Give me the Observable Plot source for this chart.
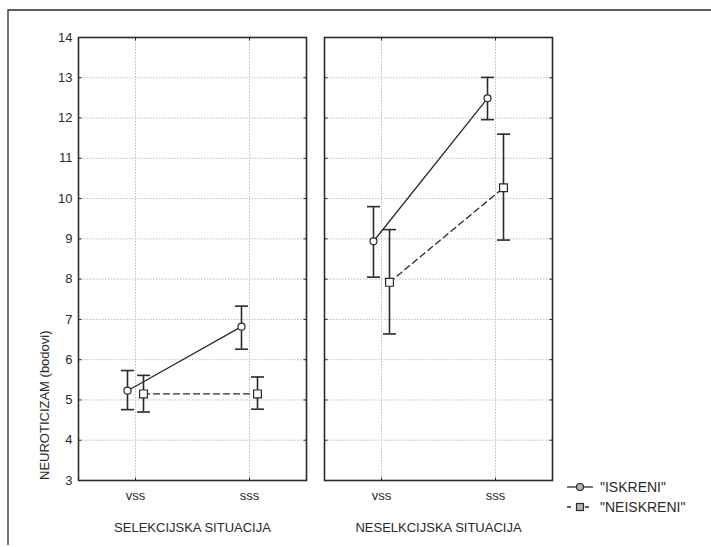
<!DOCTYPE html>
<html>
<head>
<meta charset="utf-8">
<script src="https://cdn.jsdelivr.net/npm/d3@7"></script>
<script src="https://cdn.jsdelivr.net/npm/@observablehq/plot@0.6"></script>
<style>
  body { margin: 0; background: #fff; }
  #chart { position: relative; width: 711px; height: 547px; }
</style>
</head>
<body>
<div id="chart"></div>
<script>
// Situations (panels), conditions (x categories) and respondent groups
const situations = ["SELEKCIJSKA SITUACIJA", "NESELKCIJSKA SITUACIJA"];
const conditions = ["vss", "sss"];
const groups = ['"ISKRENI"', '"NEISKRENI"'];
const yLabel = "NEUROTICIZAM (bodovi)";
const yTicks = [3, 4, 5, 6, 7, 8, 9, 10, 11, 12, 13, 14];

// [situation][condition] : mean and interval bounds
const iskreniMean = [[5.23, 6.82], [8.94, 12.49]];
const iskreniLow  = [[4.76, 6.26], [8.05, 11.96]];
const iskreniHigh = [[5.73, 7.33], [9.80, 13.01]];
const neiskreniMean = [[5.15, 5.15], [7.92, 10.27]];
const neiskreniLow  = [[4.70, 4.77], [6.64, 8.97]];
const neiskreniHigh = [[5.61, 5.57], [9.23, 11.60]];

const series = [
  {group: groups[0], mean: iskreniMean, low: iskreniLow, high: iskreniHigh},
  {group: groups[1], mean: neiskreniMean, low: neiskreniLow, high: neiskreniHigh}
];

const rows = series.flatMap(s =>
  situations.flatMap((sit, i) =>
    conditions.map((c, j) => ({
      group: s.group, situation: sit, condition: c,
      mean: s.mean[i][j], low: s.low[i][j], high: s.high[i][j]
    }))
  )
);

const ink = "#2a2a2a";
const font = "'Liberation Sans', Arial, sans-serif";

// custom symbols: horizontal cap, square, inward tick marks
const cap = {draw(ctx, size) { const w = Math.sqrt(size / Math.PI); ctx.moveTo(-w, 0); ctx.lineTo(w, 0); }};
const square = {draw(ctx, size) { const s = Math.sqrt(size / Math.PI); ctx.rect(-s, -s, 2 * s, 2 * s); }};
const tickRight = {draw(ctx, size) { const w = Math.sqrt(size / Math.PI); ctx.moveTo(0, 0); ctx.lineTo(w, 0); }};
const tickLeft = {draw(ctx, size) { const w = Math.sqrt(size / Math.PI); ctx.moveTo(0, 0); ctx.lineTo(-w, 0); }};
const tickDown = {draw(ctx, size) { const w = Math.sqrt(size / Math.PI); ctx.moveTo(0, 0); ctx.lineTo(0, w); }};
const tickUp = {draw(ctx, size) { const w = Math.sqrt(size / Math.PI); ctx.moveTo(0, 0); ctx.lineTo(0, -w); }};

const style = [
  {group: groups[0], dx: -8, dash: null, symbol: "circle", r: 3.5},
  {group: groups[1], dx: 8, dash: "6,4", symbol: square, r: 3.9}
];

const seriesMarks = style.flatMap(st => {
  const d = rows.filter(r => r.group === st.group);
  const base = {fx: "situation", x: "condition", dx: st.dx};
  return [
    Plot.line(d, {...base, y: "mean", stroke: ink, strokeWidth: 1.3, strokeDasharray: st.dash}),
    Plot.ruleX(d, {...base, y1: "low", y2: "high", stroke: ink, strokeWidth: 1.6}),
    Plot.dot(d, {...base, y: "low", symbol: cap, r: 6.5, stroke: ink, strokeWidth: 1.6}),
    Plot.dot(d, {...base, y: "high", symbol: cap, r: 6.5, stroke: ink, strokeWidth: 1.6}),
    Plot.dot(d, {...base, y: "mean", symbol: st.symbol, r: st.r, fill: "white", stroke: ink, strokeWidth: 1.2})
  ];
});

const edgeTicks = [
  Plot.dot(yTicks, {y: d => d, frameAnchor: "left", symbol: tickRight, r: 3, stroke: ink, strokeWidth: 1}),
  Plot.dot(yTicks, {y: d => d, frameAnchor: "right", symbol: tickLeft, r: 3, stroke: ink, strokeWidth: 1}),
  Plot.dot(conditions, {x: d => d, frameAnchor: "top", symbol: tickDown, r: 3, stroke: ink, strokeWidth: 1}),
  Plot.dot(conditions, {x: d => d, frameAnchor: "bottom", symbol: tickUp, r: 3, stroke: ink, strokeWidth: 1})
];

const chart = Plot.plot({
  width: 711,
  height: 547,
  marginTop: 37,
  marginBottom: 67,
  marginLeft: 78,
  marginRight: 159,
  style: {fontFamily: font, color: ink, background: "transparent", overflow: "visible"},
  fx: {domain: situations, paddingInner: 0.0732, paddingOuter: 0, label: null},
  x: {domain: conditions, type: "point", padding: 0.5, label: null},
  y: {domain: [3, 14], label: null},
  marks: [
    Plot.gridY(yTicks.slice(1, -1), {stroke: "#bdbdbd", strokeOpacity: 1, strokeDasharray: "1.5,1.5"}),
    Plot.gridX(conditions, {stroke: "#bdbdbd", strokeOpacity: 1, strokeDasharray: "1.5,1.5"}),
    ...edgeTicks,
    Plot.axisY(yTicks, {anchor: "left", tickSize: 0, tickPadding: 6, label: null, fontSize: 13}),
    Plot.axisX({anchor: "bottom", tickSize: 0, tickPadding: 10, label: null, fontSize: 13}),
    Plot.axisFx({anchor: "bottom", tickSize: 0, tickPadding: 42, label: null, fontSize: 13}),
    ...seriesMarks,
    Plot.frame({stroke: ink, strokeWidth: 1.6})
  ]
});

document.getElementById("chart").appendChild(chart);

// outer border, y-axis title and legend drawn on the same SVG
const svg = d3.select(chart);

svg.append("path")
  .attr("d", "M8,545V10H711")
  .attr("fill", "none")
  .attr("stroke", ink)
  .attr("stroke-width", 1.3);

svg.append("text")
  .attr("transform", "translate(44,480) rotate(-90)")
  .attr("text-anchor", "start")
  .attr("dominant-baseline", "central")
  .attr("font-family", font)
  .attr("font-size", 13)
  .attr("fill", ink)
  .text(yLabel);

const legend = svg.append("g").attr("transform", "translate(567,487)");
style.forEach((st, i) => {
  const g = legend.append("g").attr("transform", `translate(0,${i * 20})`);
  g.append("line")
    .attr("x1", 0).attr("x2", 26).attr("y1", 0).attr("y2", 0)
    .attr("stroke", ink).attr("stroke-width", 1.3)
    .attr("stroke-dasharray", st.dash ? "4,5" : null);
  if (st.symbol === "circle") {
    g.append("circle").attr("cx", 13).attr("cy", 0).attr("r", 3.5)
      .attr("fill", "#b4b4b4").attr("stroke", ink).attr("stroke-width", 1.2);
  } else {
    g.append("rect").attr("x", 9.5).attr("y", -3.5).attr("width", 7).attr("height", 7)
      .attr("fill", "#b4b4b4").attr("stroke", ink).attr("stroke-width", 1.2);
  }
  g.append("text")
    .attr("x", 33).attr("y", 0)
    .attr("text-anchor", "start")
    .attr("dominant-baseline", "central")
    .attr("font-family", font)
    .attr("font-size", 14)
    .attr("fill", ink)
    .text(st.group);
});
</script>
</body>
</html>
